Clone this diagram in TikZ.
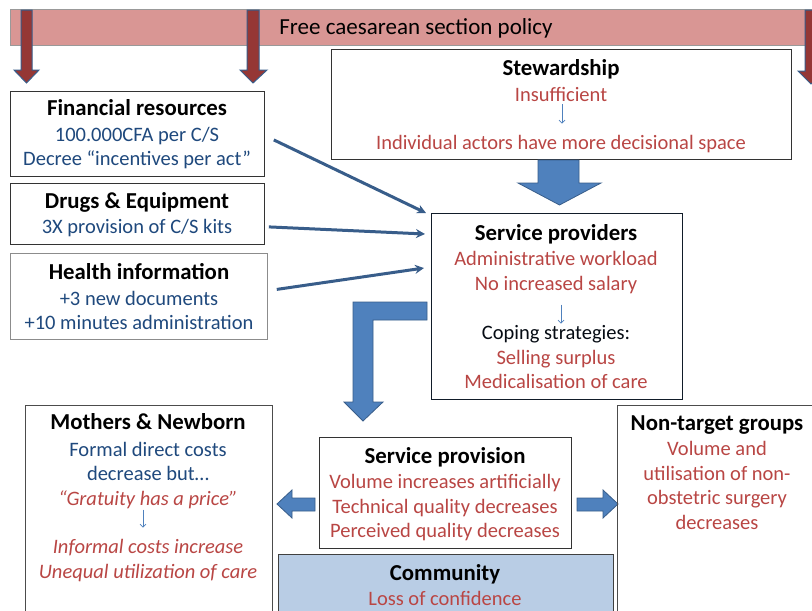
\documentclass[tikz,border=0pt]{standalone}
\usepackage{fontspec}
\setmainfont{Carlito}
\usetikzlibrary{arrows.meta,calc}

\definecolor{bannerfill}{RGB}{217,150,148}
\definecolor{policyred}{RGB}{149,55,53}
\definecolor{arrowedge}{RGB}{56,93,138}
\definecolor{arrowfill}{RGB}{79,129,189}
\definecolor{tblue}{RGB}{31,73,125}
\definecolor{tred}{RGB}{185,70,68}
\definecolor{commfill}{RGB}{185,205,229}

\tikzset{
  txt/.style={inner sep=0pt, anchor=base, font=\fontsize{20.5}{24}\selectfont},
  ttl/.style={txt, font=\bfseries\fontsize{22.8}{26}\selectfont, text=black},
  blu/.style={txt, text=tblue},
  rdt/.style={txt, text=tred},
  rdi/.style={txt, text=tred, font=\itshape\fontsize{20.5}{24}\selectfont},
  dark/.style={txt, text=black!85!tblue},
  smallarr/.style={draw=arrowfill, line width=0.7pt, -{Straight Barb[length=3pt,width=6pt]}},
  box/.style={draw=black!80, line width=0.8pt, inner sep=0pt, fill=white},
  policyarrow/.style={draw=arrowedge, line width=1pt, fill=policyred},
  blockarrow/.style={draw=arrowedge, line width=0.8pt, fill=arrowfill},
  thinarrow/.style={draw=arrowedge, line width=3pt,
    -{Stealth[length=9pt,width=9pt]}},
}

\begin{document}
\begin{tikzpicture}[x=1pt,y=-1pt]
\useasboundingbox (0,0) rectangle (812,611);
\fill[white] (0,0) rectangle (812,611);

% policy banner
\node[draw=black!40, fill=bannerfill, inner sep=0pt, minimum width=820pt,
  minimum height=36pt, anchor=north west] (banner) at (10,9) {};
\node[txt, font=\fontsize{23}{26}\selectfont] (bannertxt) at (416,34.5) {Free caesarean section policy};

% red arrows from the policy
\draw[policyarrow] (21,10) -- (32,10) -- (32,70) -- (39,70) -- (26.5,83) -- (14,70) -- (21,70) -- cycle;
\draw[policyarrow] (247,10) -- (259,10) -- (259,70) -- (267,70) -- (253,83) -- (240,70) -- (247,70) -- cycle;
\draw[policyarrow] (805,10) -- (817,10) -- (817,71) -- (824,71) -- (811,84) -- (798,71) -- (805,71) -- cycle;

% left column boxes
\node[box, minimum width=254pt, minimum height=85pt, anchor=north west] (fin) at (10,91) {};
\node[ttl] (fint) at (137,115) {Financial resources};
\node[blu] (fin1) at (137,141) {100.000CFA per C/S};
\node[blu] (fin2) at (137,165) {Decree “incentives per act”};

\node[box, minimum width=254pt, minimum height=61pt, anchor=north west] (drug) at (10,183) {};
\node[ttl] (drugt) at (137,208) {Drugs \& Equipment};
\node[blu] (drug1) at (137,233) {3X provision of C/S kits};

\node[box, draw=black!45, minimum width=257pt, minimum height=86pt, anchor=north west] (hinf) at (10,253) {};
\node[ttl] (hinft) at (139,279) {Health information};
\node[blu] (hinf1) at (139,305) {+3 new documents};
\node[blu] (hinf2) at (139,329) {+10 minutes administration};

% stewardship
\node[box, minimum width=460pt, minimum height=110pt, anchor=north west] (stew) at (331,49) {};
\node[ttl] (stewt) at (561,75) {Stewardship};
\node[rdt] (stew1) at (561,101) {Insufficient};
\node[rdt] (stew2) at (561,149) {Individual actors have more decisional space};
\draw[smallarr, shorten <=3pt, shorten >=11pt] ([xshift=1pt]stew1.south) -- ([xshift=1pt]stew2.north);

% service providers
\node[box, draw=black!70!arrowedge, minimum width=251pt, minimum height=186pt, anchor=north west] (prov) at (431,213) {};
\node[ttl] (provt) at (556,240) {Service providers};
\node[rdt] (prov1) at (556,265) {Administrative workload};
\node[rdt] (prov2) at (556,290) {No increased salary};
\node[dark] (prov3) at (556,339) {Coping strategies:};
\draw[smallarr, shorten <=11pt, shorten >=1pt] ([xshift=5pt]prov2.south) -- ([xshift=5pt]prov3.north);
\node[rdt] (prov4) at (556,364) {Selling surplus};
\node[rdt] (prov5) at (556,388) {Medicalisation of care};

% thin arrows into service providers
\coordinate (finout) at ($(fin.east)+(9,6)$);
\coordinate (drugout) at ($(drug.east)+(4,13)$);
\coordinate (hinfout) at ($(hinf.east)+(9,-7)$);
\draw[thinarrow] (finout) -- ($(prov.north west)+(-5,0)$);
\draw[thinarrow] (drugout) -- ($(prov.north west)+(-6,21)$);
\draw[thinarrow] (hinfout) -- ($(prov.north west)+(-7,55)$);

% block arrow stewardship -> providers
\draw[blockarrow] (538,160) -- (579,160) -- (579,183) -- (601,183) -- (559.5,205) -- (518,183) -- (538,183) -- cycle;

% bent block arrow providers -> service provision
\draw[blockarrow] (427,302) -- (353,302) -- (353,402) -- (344,402) -- (363,421) -- (383,402) -- (373,402) -- (373,320) -- (427,320) -- cycle;

% service provision
\node[box, minimum width=252pt, minimum height=111pt, anchor=north west] (spv) at (319,437) {};
\node[ttl] (spvt) at (445,463) {Service provision};
\node[rdt] (spv1) at (445,488) {Volume increases artificially};
\node[rdt] (spv2) at (445,513) {Technical quality decreases};
\node[rdt] (spv3) at (445,537) {Perceived quality decreases};

% side block arrows
\draw[blockarrow] (315,498) -- (292,498) -- (292,490) -- (277,504) -- (292,518) -- (292,511) -- (315,511) -- cycle;
\draw[blockarrow] (577,498) -- (603,498) -- (603,490) -- (618,504) -- (603,518) -- (603,511) -- (577,511) -- cycle;

% mothers & newborn (open at the bottom)
\coordinate (mnw) at (25,405);
\coordinate (mne) at (272,405);
\draw[black!70, line width=0.8pt] ($(mnw)+(0,215)$) -- (mnw) -- (mne) -- ($(mne)+(0,215)$);
\node[ttl] (mothert) at (148,429) {Mothers \& Newborn};
\node[blu] (mother1) at (148,456) {Formal direct costs};
\node[blu] (mother2) at (148,480) {decrease but…};
\node[rdi] (mother3) at (148,505) {“Gratuity has a price”};
\node[rdi] (mother4) at (148,553) {Informal costs increase};
\node[rdi] (mother5) at (148,578) {Unequal utilization of care};
\draw[smallarr, shorten <=1pt, shorten >=11pt] ([xshift=-5pt]mother3.south) -- ([xshift=-5pt]mother4.north);

% non-target groups (open at right and bottom)
\coordinate (ntw) at (617,405);
\draw[black!70, line width=0.8pt] ($(ntw)+(0,215)$) -- (ntw) -- ($(ntw)+(200,0)$);
\node[ttl] (ntgt) at (717,430) {Non-target groups};
\node[rdt] (ntg1) at (717,455) {Volume and};
\node[rdt] (ntg2) at (717,480) {utilisation of non-};
\node[rdt] (ntg3) at (717,504) {obstetric surgery};
\node[rdt] (ntg4) at (717,529) {decreases};

% community
\node[box, fill=commfill, draw=black!75, line width=1pt, minimum width=335pt, minimum height=70pt, anchor=north west] (comm) at (278,554) {};
\node[ttl] (commt) at (445,580) {Community};
\node[rdt] (comm1) at (445,605) {Loss of confidence};
\end{tikzpicture}
\end{document}
